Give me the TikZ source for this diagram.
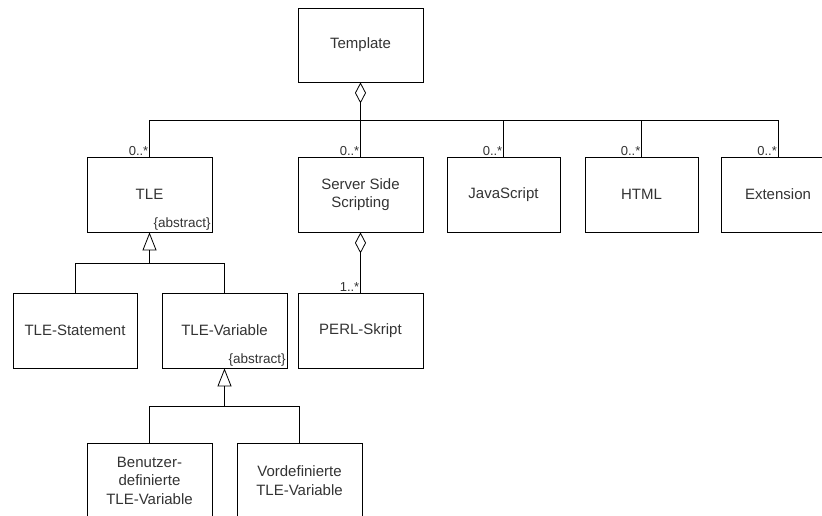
\documentclass[tikz,border=0pt]{standalone}
\usepackage{fontspec}
\setmainfont{Liberation Sans}
\usetikzlibrary{arrows.meta}
\begin{document}
\begin{tikzpicture}[x=1pt,y=-1pt,
  cls/.style={draw, line width=0.8pt, align=center, minimum width=125pt, minimum height=75pt, inner sep=2pt, font=\fontsize{15}{18.5}\selectfont, text=black!80},
  mult/.style={font=\fontsize{13}{14}\selectfont, inner sep=1pt, anchor=south east, text=black!80},
  abs/.style={font=\fontsize{13.5}{14}\selectfont, inner sep=1.5pt, anchor=south east, text=black!80},
  aggr/.style={arrows={Diamond[open,length=21pt,width=11pt]-}, line width=0.8pt},
  inh/.style={arrows={-Triangle[open,length=18pt,width=14pt]}, line width=0.8pt},
  conn/.style={line width=0.8pt}]
\useasboundingbox (0,0) rectangle (822,516);
\node[cls, minimum height=74pt] (tmpl) at (360.5,45) {Template};
\node[cls] (tle) at (149.5,194.5) {TLE};
\node[cls] (sss) at (360.5,194.5) {Server Side\\Scripting};
\node[cls, minimum width=113pt] (js) at (503.5,194.5) {JavaScript};
\node[cls, minimum width=113pt] (html) at (641.5,194.5) {HTML};
\node[cls, minimum width=113pt] (ext) at (778,194.5) {Extension};
\node[cls, minimum width=124pt] (stmt) at (75,330.5) {TLE-Statement};
\node[cls] (var) at (224.5,330.5) {TLE-Variable};
\node[cls] (perl) at (360.5,331) {PERL-Skript};
\node[cls] (ben) at (149.5,480.5) {Benutzer-\\definierte\\TLE-Variable};
\node[cls] (vor) at (299.5,480.5) {Vordefinierte\\TLE-Variable};
% abstract classes
\node[abs] at (tle.south east) {\{abstract\}};
\node[abs] at (var.south east) {\{abstract\}};
% aggregation Template
\coordinate (bus) at (0,120);
\draw[aggr] (tmpl.south) -- (sss.north);
\draw[conn] (tle.north) -- (tle.north |- bus) -| (ext.north);
\draw[conn] (js.north) -- (js.north |- bus);
\draw[conn] (html.north) -- (html.north |- bus);
\node[mult] at (tle.north) {0..*};
\node[mult] at (sss.north) {0..*};
\node[mult] at (js.north) {0..*};
\node[mult] at (html.north) {0..*};
\node[mult] at (ext.north) {0..*};
% aggregation Server Side Scripting
\draw[aggr] (sss.south) -- (perl.north);
\node[mult] at (perl.north) {1..*};
% generalization TLE
\path (tle.south) ++(0,31) coordinate (g1);
\draw[conn] (stmt.north) |- (g1) -| (var.north);
\draw[inh] (g1) -- (tle.south);
% generalization TLE-Variable
\path (var.south) ++(0,38) coordinate (g2);
\draw[conn] (ben.north) |- (g2) -| (vor.north);
\draw[inh] (g2) -- (var.south);
\end{tikzpicture}
\end{document}
